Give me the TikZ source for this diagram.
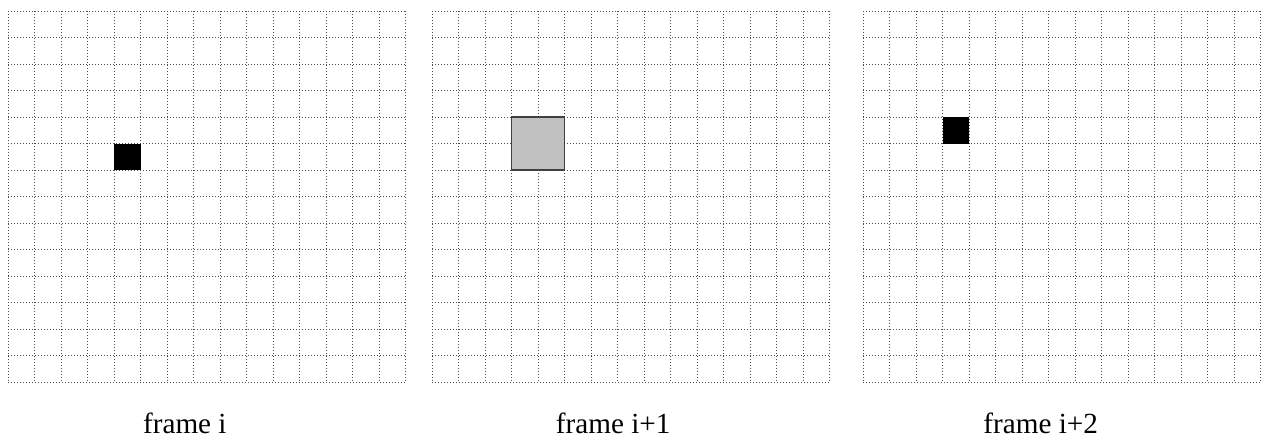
\documentclass[tikz,border=0pt]{standalone}
\usepackage{fontspec}
\setmainfont{Liberation Serif}
\begin{document}
\begin{tikzpicture}[x=0.5pt,y=-0.5pt,
  gridline/.style={draw=black!70, line width=0.5pt, dash pattern=on 0.5pt off 1pt},
  blackcell/.style={fill=black},
  graycell/.style={fill={rgb,255:red,192;green,192;blue,192}, draw=black!75, line width=0.6pt},
  framelabel/.style={anchor=base west, inner sep=0pt, font=\fontsize{14.6}{17}\selectfont}]
\useasboundingbox (0,0) rectangle (1266,440);
\foreach \ox in {8,432,863}{
  \foreach \i in {0,...,15} \draw[gridline] ({\ox+\i*26.5},11) -- ({\ox+\i*26.5},382);
  \foreach \j in {0,...,14} \draw[gridline] (\ox,{11+\j*26.5}) -- ({\ox+397.5},{11+\j*26.5});
}
\path[blackcell] (114,143.5) rectangle (140.5,170);
\path[graycell] (511.5,117) rectangle (564.5,170);
\path[blackcell] (942.5,117) rectangle (969,143.5);
\node[framelabel] (l1) at (142.7,433) {frame i};
\node[framelabel] (l2) at (555.5,433) {frame i+1};
\node[framelabel] (l3) at (983,433) {frame i+2};
\end{tikzpicture}
\end{document}
